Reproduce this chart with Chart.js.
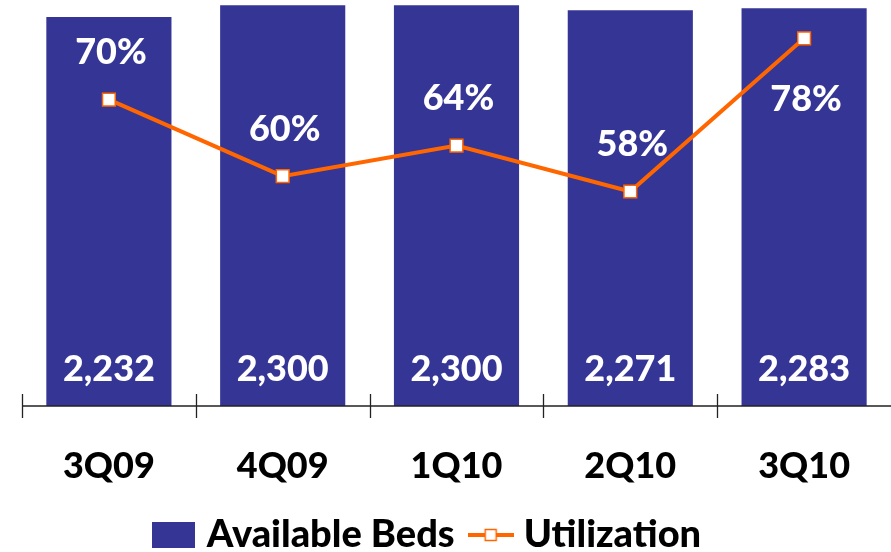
<!DOCTYPE html>
<html>
<head>
<meta charset="utf-8">
<script src="https://cdn.jsdelivr.net/npm/chart.js@4"></script>
<style>
  html, body { margin: 0; padding: 0; background: #fff; }
  #wrap { width: 891px; height: 552px; }
</style>
</head>
<body>
<div id="wrap"><canvas id="leitos"></canvas></div>
<script>
const trimestres = ['3Q09', '4Q09', '1Q10', '2Q10', '3Q10'];
const leitosDisponiveis = [2232, 2300, 2300, 2271, 2283];
const ocupacao = [70, 60, 64, 58, 78];

const AZUL = '#353596';
const LARANJA = '#FF6600';
const FONTE = 'Lato, "Open Sans", sans-serif';

// icones da legenda: caixa azul e linha com marcador quadrado
function iconeBarra() {
  const c = document.createElement('canvas');
  c.width = 43; c.height = 26;
  const g = c.getContext('2d');
  g.fillStyle = AZUL;
  g.fillRect(0, 0, 43, 26);
  return c;
}

function iconeLinha() {
  const c = document.createElement('canvas');
  c.width = 46; c.height = 14;
  const g = c.getContext('2d');
  g.strokeStyle = LARANJA;
  g.lineWidth = 4;
  g.beginPath(); g.moveTo(0, 7); g.lineTo(46, 7); g.stroke();
  g.fillStyle = '#fff';
  g.fillRect(17, 1, 12, 12);
  g.lineWidth = 1.5;
  g.strokeRect(17.5, 1.5, 11, 11);
  return c;
}

// eixo x com marcas cruzando a linha de base
const eixoPlugin = {
  id: 'eixo',
  afterLayout(chart) {
    // legenda um pouco para a esquerda
    chart.legend.left -= 26;
    chart.legend.right -= 26;
  },
  afterDatasetsDraw(chart) {
    const { ctx, chartArea } = chart;
    const x = chart.scales.x;
    const base = chartArea.bottom;
    const passo = x.getPixelForValue(1) - x.getPixelForValue(0);
    ctx.save();
    ctx.strokeStyle = '#222';
    ctx.lineWidth = 1.3;
    ctx.beginPath();
    ctx.moveTo(chartArea.left, base);
    ctx.lineTo(chart.width, base);
    for (let i = 0; i < trimestres.length; i++) {
      const px = Math.round(x.getPixelForValue(i) - passo / 2) + 0.5;
      ctx.moveTo(px, base - 12);
      ctx.lineTo(px, base + 12);
    }
    ctx.stroke();
    ctx.restore();
  }
};

// rotulos de valor: leitos na base da barra, ocupacao perto do ponto
const rotulosPlugin = {
  id: 'rotulos',
  afterDraw(chart) {
    const { ctx, chartArea } = chart;
    const barras = chart.getDatasetMeta(0).data;
    const pontos = chart.getDatasetMeta(1).data;
    ctx.save();
    ctx.fillStyle = '#fff';
    ctx.textAlign = 'center';
    ctx.textBaseline = 'middle';
    ctx.font = '900 36px ' + FONTE;
    barras.forEach((b, i) => {
      ctx.fillText(leitosDisponiveis[i].toLocaleString('en-US'), b.x, chartArea.bottom - 37);
    });
    pontos.forEach((p, i) => {
      const anterior = i > 0 ? ocupacao[i - 1] : ocupacao[i];
      const desloc = ocupacao[i] > anterior + 10 ? 61 : -47;
      ctx.fillText(ocupacao[i] + '%', p.x + 2, p.y + desloc);
    });
    ctx.restore();
  }
};

new Chart(document.getElementById('leitos'), {
  data: {
    labels: trimestres,
    datasets: [
      {
        type: 'bar',
        label: 'Available Beds',
        data: leitosDisponiveis,
        backgroundColor: AZUL,
        categoryPercentage: 0.72,
        barPercentage: 1,
        yAxisID: 'y',
        order: 2
      },
      {
        type: 'line',
        label: 'Utilization',
        data: ocupacao,
        borderColor: LARANJA,
        borderWidth: 4,
        tension: 0,
        pointStyle: 'rect',
        pointRadius: 9,
        pointBackgroundColor: '#fff',
        pointBorderColor: LARANJA,
        pointBorderWidth: 1.5,
        yAxisID: 'y1',
        order: 1
      }
    ]
  },
  options: {
    responsive: true,
    maintainAspectRatio: false,
    animation: false,
    layout: { autoPadding: false, padding: { left: 22, right: 0, top: 0, bottom: -12 } },
    scales: {
      x: {
        grid: { display: false, drawTicks: false },
        border: { display: false },
        ticks: {
          color: '#000',
          padding: 39,
          font: { family: FONTE, size: 36, weight: '900' }
        },
        afterFit(escala) {
          escala.height = 88;
        }
      },
      y: { display: false, min: 0, max: 2330 },
      y1: { display: false, min: 30, max: 83 }
    },
    plugins: {
      tooltip: { enabled: false },
      legend: {
        position: 'bottom',
        labels: {
          color: '#000',
          usePointStyle: true,
          pointStyleWidth: 28,
          boxHeight: 26,
          padding: 22,
          font: { family: FONTE, size: 38, weight: '900' },
          generateLabels(chart) {
            return chart.data.datasets.map((ds, i) => ({
              text: ds.label,
              datasetIndex: i,
              pointStyle: i === 0 ? iconeBarra() : iconeLinha(),
              fontColor: '#000',
              lineWidth: 0,
              hidden: false
            }));
          }
        }
      }
    }
  },
  plugins: [eixoPlugin, rotulosPlugin]
});
</script>
</body>
</html>
